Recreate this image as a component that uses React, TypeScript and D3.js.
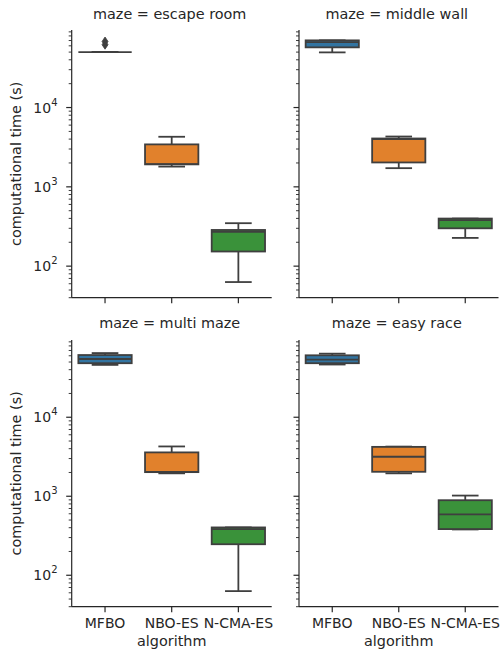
import React from 'react';
import * as d3 from 'd3';

// facet titles and categories
const mazes = ['escape room', 'middle wall', 'multi maze', 'easy race'];
const algorithms = ['MFBO', 'NBO-ES', 'N-CMA-ES'];
const colors = ['#3274a1', '#e1812c', '#3a923a'];

// box stats per algorithm: [whisker low, q1, median, q3, whisker high]
const escapeRoom = [
  [50000, 50000, 50000, 50000, 50000],
  [1800, 1920, 1930, 3430, 4280],
  [63, 153, 270, 286, 348],
];
const middleWall = [
  [49600, 57400, 66700, 70300, 70300],
  [1720, 2030, 4000, 4070, 4310],
  [227, 300, 380, 398, 398],
];
const multiMaze = [
  [46000, 48300, 54600, 61300, 64900],
  [1950, 2020, 2030, 3590, 4270],
  [63, 247, 384, 403, 403],
];
const easyRace = [
  [46500, 48300, 53700, 60800, 63800],
  [1950, 2040, 3160, 4217, 4250],
  [380, 384, 590, 891, 1020],
];
const escapeRoomFliers = [[62000, 68000], [], []];

const stats = [escapeRoom, middleWall, multiMaze, easyRace];
const fliers = [escapeRoomFliers, [[], [], []], [[], [], []], [[], [], []]];

const yDomain = [40, 95000];
const yTickExps = [2, 3, 4];

const FONT = 'DejaVu Sans';
const INK = '#262626';
const GRAY = '#3f3f3f';

const cols = [[71.7, 271.7], [299, 498.5]];
const rows = [[30, 297.7], [340, 606.7]];

function Panel({ idx }) {
  const col = idx % 2;
  const row = Math.floor(idx / 2);
  const [x0, x1] = cols[col];
  const [y0, y1] = rows[row];

  const x = d3.scaleBand().domain(algorithms).range([x0, x1]).padding(0);
  const y = d3.scaleLog().domain(yDomain).range([y1, y0]);
  const bw = x.bandwidth() * 0.8;

  const ticks = y.ticks();

  return (
    <g>
      <text x={(x0 + x1) / 2 - 2} y={row === 0 ? 18.5 : 328} textAnchor="middle"
        fontSize={14.4} fill={INK}>{'maze = ' + mazes[idx]}</text>

      {/* y ticks */}
      {ticks.map((t, i) => {
        const major = Math.abs(Math.log10(t) - Math.round(Math.log10(t))) < 1e-9;
        return (
          <line key={i} x1={x0} x2={x0 - (major ? 5.5 : 3)} y1={y(t)} y2={y(t)}
            stroke={INK} strokeWidth={major ? 1.2 : 0.9} />
        );
      })}
      {col === 0 && yTickExps.map(e => (
        <text key={e} x={57.5} y={y(Math.pow(10, e)) + 5} textAnchor="end"
          fontSize={14} fill={INK}>
          <tspan>10</tspan>
          <tspan dy={-7} fontSize={10}>{e}</tspan>
        </text>
      ))}

      {/* x ticks */}
      {algorithms.map(a => {
        const cx = x(a) + x.bandwidth() / 2;
        return (
          <g key={a}>
            <line x1={cx} x2={cx} y1={y1} y2={y1 + 5.5} stroke={INK} strokeWidth={1.2} />
            {row === 1 && (
              <text x={cx} y={628} textAnchor="middle" fontSize={14} fill={INK}>{a}</text>
            )}
          </g>
        );
      })}
      {row === 1 && (
        <text x={(x0 + x1) / 2} y={646} textAnchor="middle" fontSize={14.4} fill={INK}>algorithm</text>
      )}
      {col === 0 && (
        <text transform={`translate(21,${(y0 + y1) / 2}) rotate(-90)`} textAnchor="middle"
          fontSize={14.4} fill={INK}>computational time (s)</text>
      )}

      {/* boxes */}
      {algorithms.map((a, i) => {
        const [lo, q1, med, q3, hi] = stats[idx][i];
        const cx = x(a) + x.bandwidth() / 2;
        return (
          <g key={a} stroke={GRAY} strokeWidth={1.8}>
            <line x1={cx} x2={cx} y1={y(q1)} y2={y(lo)} />
            <line x1={cx} x2={cx} y1={y(q3)} y2={y(hi)} />
            <line x1={cx - bw / 4} x2={cx + bw / 4} y1={y(lo)} y2={y(lo)} />
            <line x1={cx - bw / 4} x2={cx + bw / 4} y1={y(hi)} y2={y(hi)} />
            <rect x={cx - bw / 2} width={bw} y={y(q3)} height={Math.max(0, y(q1) - y(q3))}
              fill={colors[i]} />
            <line x1={cx - bw / 2} x2={cx + bw / 2} y1={y(med)} y2={y(med)} />
            {fliers[idx][i].map((f, k) => (
              <path key={k} d={`M${cx},${y(f) - 4.5}L${cx + 3},${y(f)}L${cx},${y(f) + 4.5}L${cx - 3},${y(f)}Z`}
                fill={GRAY} strokeWidth={0.8} />
            ))}
          </g>
        );
      })}

      {/* spines */}
      <line x1={x0} x2={x0} y1={y0} y2={y1} stroke={INK} strokeWidth={1.2} />
      <line x1={x0} x2={x1} y1={y1} y2={y1} stroke={INK} strokeWidth={1.2} />
    </g>
  );
}

export default function App() {
  return (
    <svg width={502} height={651} fontFamily={FONT}
      style={{ position: 'absolute', left: 0, top: 0, background: '#fff' }}>
      {mazes.map((m, i) => <Panel key={m} idx={i} />)}
    </svg>
  );
}
